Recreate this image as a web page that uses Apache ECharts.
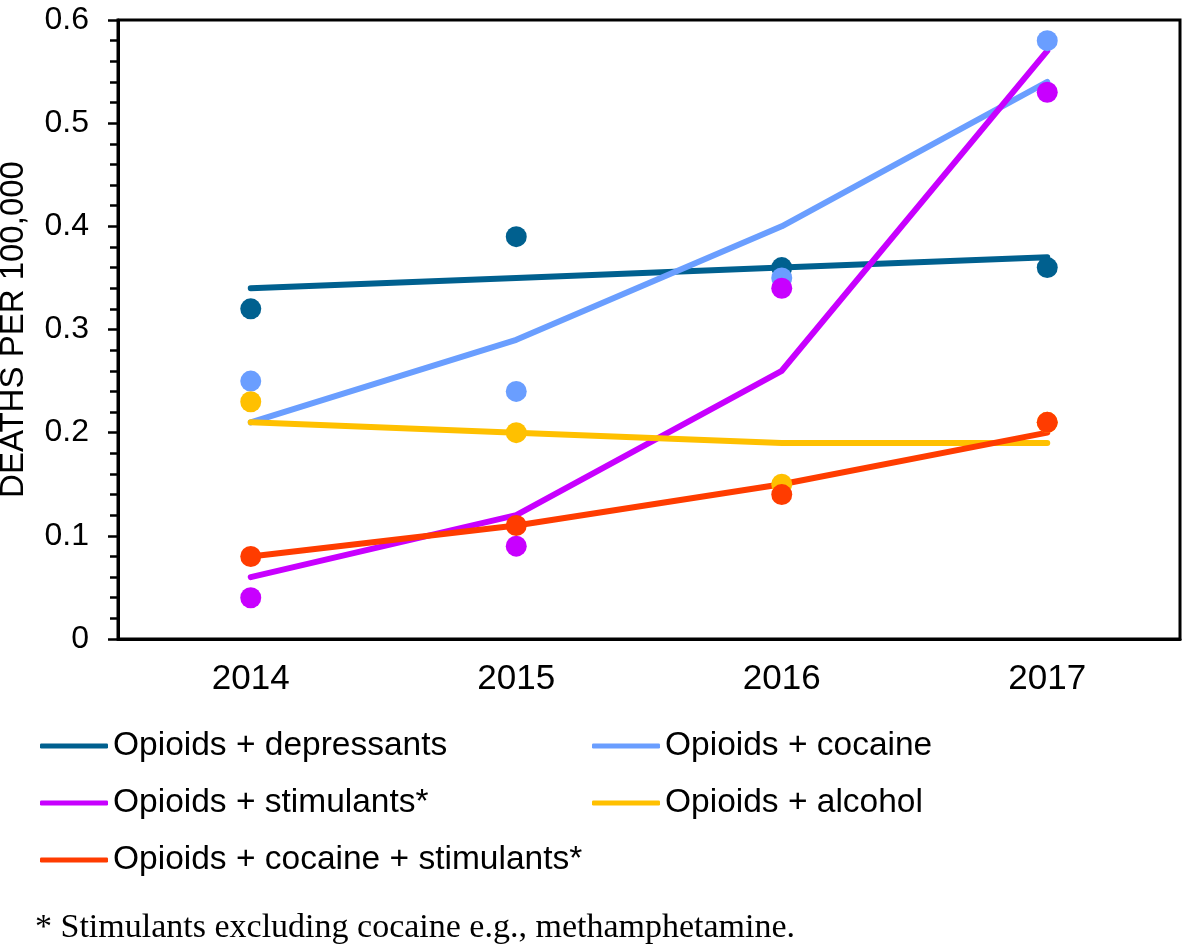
<!DOCTYPE html>
<html>
<head>
<meta charset="utf-8">
<script src="https://cdn.jsdelivr.net/npm/echarts@6/dist/echarts.min.js"></script>
<style>
  html, body { margin: 0; padding: 0; background: #fff; }
  #chart { width: 1184px; height: 947px; }
</style>
</head>
<body>
<div id="chart"></div>
<script>
// Categories (years)
var categories = ['2014', '2015', '2016', '2017'];

// Series names
var nameDep = 'Opioids + depressants';
var nameCoc = 'Opioids + cocaine';
var nameStim = 'Opioids + stimulants*';
var nameAlc = 'Opioids + alcohol';
var nameCocStim = 'Opioids + cocaine + stimulants*';

// Trend-line values
var lineDep = [0.34, 0.35, 0.36, 0.37];
var lineCoc = [0.21, 0.29, 0.40, 0.54];
var lineStim = [0.06, 0.12, 0.26, 0.57];
var lineAlc = [0.21, 0.20, 0.19, 0.19];
var lineCocStim = [0.08, 0.11, 0.15, 0.20];

// Observed points
var ptsDep = [0.32, 0.39, 0.36, 0.36];
var ptsCoc = [0.25, 0.24, 0.35, 0.58];
var ptsStim = [0.04, 0.09, 0.34, 0.53];
var ptsAlc = [0.23, 0.20, 0.15, 0.21];
var ptsCocStim = [0.08, 0.11, 0.14, 0.21];

// Y-axis settings
var yMin = 0, yMax = 0.6, yInterval = 0.1;
var yTitle = 'DEATHS PER 100,000';
var footnote = '* Stimulants excluding cocaine e.g., methamphetamine.';

var colors = {
  dep: '#00608F',
  coc: '#6A9EFF',
  stim: '#C800FF',
  alc: '#FFC000',
  cocStim: '#FF3C00'
};

var sans = '"Liberation Sans", Arial, sans-serif';

function lineSeries(name, data, color) {
  return {
    name: name, type: 'line', data: data, symbol: 'none', showSymbol: false,
    lineStyle: { color: color, width: 6, cap: 'round', join: 'round' }, itemStyle: { color: color },
    emphasis: { disabled: true },
    z: 2, animation: false
  };
}
function dotSeries(name, data, color, z) {
  return {
    name: name + ' (observed)', type: 'scatter', data: data, symbol: 'circle', symbolSize: 21,
    itemStyle: { color: color, opacity: 1 }, emphasis: { disabled: true }, z: z, animation: false
  };
}

var legendCommon = {
  orient: 'vertical', top: 726, padding: 0,
  icon: 'roundRect', itemWidth: 68, itemHeight: 5, itemGap: 17,
  textStyle: { color: '#000', fontFamily: sans, fontSize: 33.5, lineHeight: 40 },
  selectedMode: false
};

var chart = echarts.init(document.getElementById('chart'), null, { renderer: 'canvas' });
chart.setOption({
  animation: false,
  backgroundColor: '#fff',
  grid: {
    left: 118, top: 20, right: 4, bottom: 308,
    containLabel: false, outerBoundsMode: 'none',
    show: true, borderColor: '#000', borderWidth: 3, backgroundColor: 'transparent'
  },
  xAxis: {
    type: 'category', data: categories, boundaryGap: true,
    axisLine: { lineStyle: { color: '#000', width: 3 } },
    axisTick: { show: false },
    axisLabel: { color: '#000', fontFamily: sans, fontSize: 35, margin: 23 },
    splitLine: { show: false }
  },
  yAxis: {
    type: 'value', min: yMin, max: yMax, interval: yInterval,
    name: yTitle, nameLocation: 'middle', nameRotate: 90, nameGap: 88,
    nameTextStyle: { color: '#000', fontFamily: sans, fontSize: 33 },
    axisLine: { show: true, lineStyle: { color: '#000', width: 3 } },
    axisTick: { show: true, length: 10, inside: false, lineStyle: { color: '#000', width: 2.5 } },
    minorTick: { show: true, splitNumber: 5, length: 8, lineStyle: { color: '#000', width: 2.5 } },
    axisLabel: { color: '#000', fontFamily: sans, fontSize: 32, margin: 29 },
    splitLine: { show: false }
  },
  legend: [
    Object.assign({}, legendCommon, { data: [nameDep, nameStim, nameCocStim], left: 40 }),
    Object.assign({}, legendCommon, { data: [nameCoc, nameAlc], left: 592 })
  ],
  graphic: [
    {
      type: 'text', left: 35, top: 911,
      style: { text: footnote, fill: '#000', font: '34px "Liberation Serif", "Times New Roman", serif' }
    }
  ],
  series: [
    lineSeries(nameDep, lineDep, colors.dep),
    lineSeries(nameCoc, lineCoc, colors.coc),
    lineSeries(nameStim, lineStim, colors.stim),
    lineSeries(nameAlc, lineAlc, colors.alc),
    lineSeries(nameCocStim, lineCocStim, colors.cocStim),
    dotSeries(nameDep, ptsDep, colors.dep, 3),
    dotSeries(nameCoc, ptsCoc, colors.coc, 4),
    dotSeries(nameStim, ptsStim, colors.stim, 5),
    dotSeries(nameAlc, ptsAlc, colors.alc, 6),
    dotSeries(nameCocStim, ptsCocStim, colors.cocStim, 7)
  ]
});
</script>
</body>
</html>
